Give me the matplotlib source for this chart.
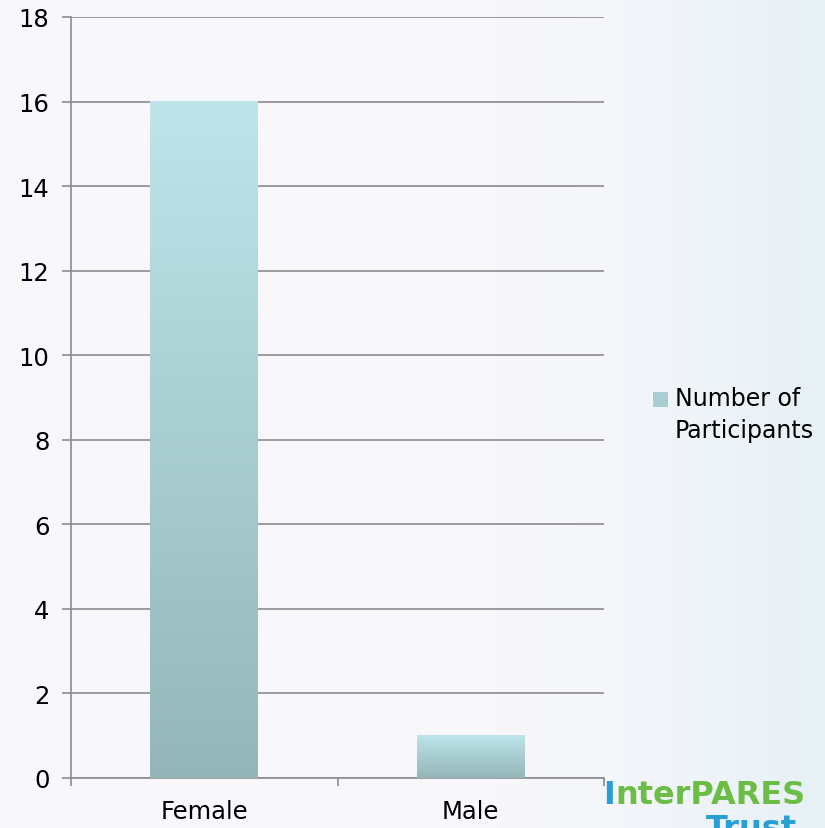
import numpy as np
import matplotlib
matplotlib.use("Agg")
import matplotlib.pyplot as plt
from matplotlib.colors import LinearSegmentedColormap
from matplotlib.patches import Rectangle

categories = ["Female", "Male"]
values = [16, 1]
series_name = "Number of\nParticipants"
y_ticks = [0, 2, 4, 6, 8, 10, 12, 14, 16, 18]

W, H = 825, 829
fig = plt.figure(figsize=(W / 100, H / 100), dpi=100)
fig.patch.set_facecolor("#F8F8FC")

# subtle background wash toward the right
bg = fig.add_axes([0, 0, 1, 1], zorder=-10)
gx = np.linspace(0, 1, 256)
grad = np.clip((gx - 0.6) / 0.4, 0, 1) ** 1.5
bgimg = np.ones((2, 256, 3))
c0 = np.array([248, 248, 252]) / 255
c1 = np.array([230, 240, 245]) / 255
for i in range(3):
    bgimg[:, :, i] = c0[i] + (c1[i] - c0[i]) * grad
bg.imshow(bgimg, extent=[0, 1, 0, 1], aspect="auto")
bg.axis("off")

ax = fig.add_axes([71 / W, 1 - 779 / H, (604 - 71) / W, (779 - 18) / H])
ax.set_facecolor("none")

cmap = LinearSegmentedColormap.from_list("bar", ["#94B6B8", "#BDE5EA"])
bar_w = 0.405
x = np.arange(len(categories))
grad_img = np.linspace(0, 1, 256).reshape(-1, 1)
for xi, v in zip(x, values):
    ax.imshow(grad_img, extent=[xi - bar_w / 2, xi + bar_w / 2, 0, v],
              origin="lower", aspect="auto", cmap=cmap, zorder=3)

ax.set_xlim(-0.5, len(categories) - 0.5)
ax.set_ylim(0, 18)
ax.set_yticks(y_ticks)
ax.set_xticks(x)
ax.set_xticklabels(categories)
ax.set_xticks(np.arange(-0.5, len(categories), 1), minor=True)
ax.yaxis.grid(True, color="#8C8C8C", linewidth=1.2, zorder=0)
ax.set_axisbelow(True)
for s in ["top", "right"]:
    ax.spines[s].set_visible(False)
for s in ["left", "bottom"]:
    ax.spines[s].set_color("#8C8C8C")
    ax.spines[s].set_linewidth(1.2)
ax.tick_params(axis="y", length=6.5, width=1.2, color="#8C8C8C", pad=9,
               labelsize=17.5, labelcolor="black")
ax.tick_params(axis="x", which="major", length=0, pad=15, labelsize=17.5)
ax.tick_params(axis="x", which="minor", length=6, width=1.2, color="#8C8C8C")

# legend (manual)
fig.patches.append(Rectangle((653 / W, 1 - 408 / H), 15 / W, 15 / H,
                             transform=fig.transFigure, facecolor="#A8CDD2",
                             edgecolor="none"))
fig.text(675 / W, 1 - 387 / H, series_name, fontsize=17, va="top",
         ha="left", linespacing=1.4, transform=fig.transFigure)

# logo text
fig.canvas.draw()
r = fig.canvas.get_renderer()
t1 = fig.text(603 / W, 1 - 804 / H, "I", fontsize=23, fontweight="bold",
              color="#2A9FD6", va="baseline", ha="left")
bb = t1.get_window_extent(r)
fig.text(bb.x1 / W + 1 / W, 1 - 804 / H, "nterPARES", fontsize=23,
         fontweight="bold", color="#6CBD45", va="baseline", ha="left")
fig.text(706 / W, 1 - 838 / H, "Trust", fontsize=23, fontweight="bold",
         color="#2A9FD6", va="baseline", ha="left")

fig.savefig("out.png", dpi=100, facecolor=fig.get_facecolor())
